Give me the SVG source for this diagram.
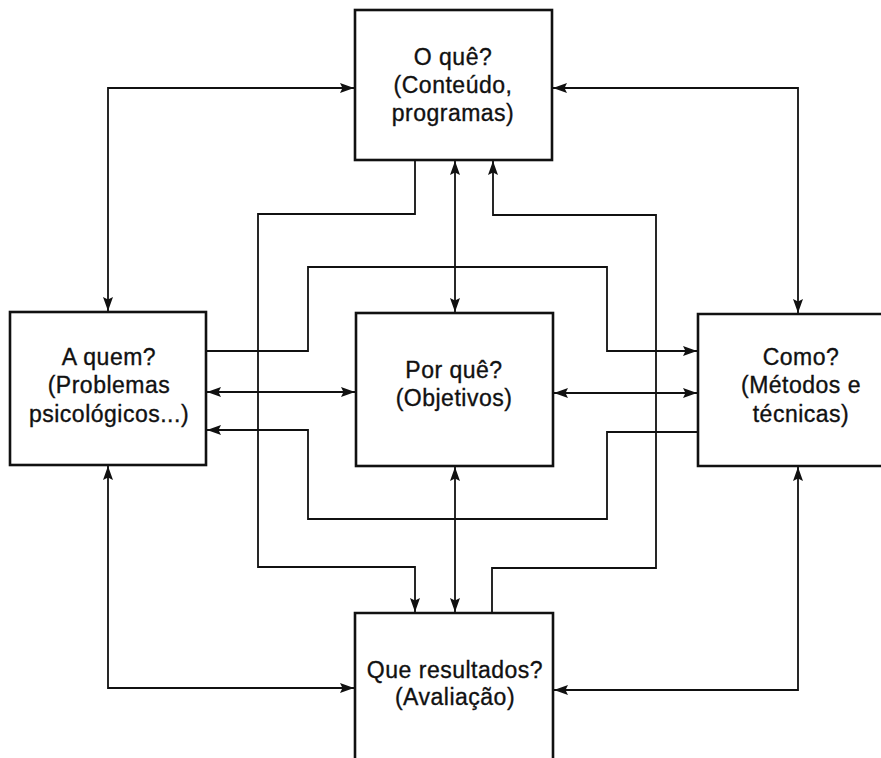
<svg xmlns="http://www.w3.org/2000/svg" width="881" height="758" viewBox="0 0 881 758">
<style>
.box{fill:#fff;stroke:#111;stroke-width:2.6}
.c{fill:none;stroke:#111;stroke-width:1.8}
.t{font-family:"Liberation Sans",Arial,sans-serif;font-size:23px;fill:#111;stroke:#111;stroke-width:0.35;letter-spacing:0.5px;text-anchor:middle}
</style>
<defs>
<marker id="a" markerUnits="userSpaceOnUse" markerWidth="15" markerHeight="11" refX="14" refY="5" orient="auto-start-reverse">
<path d="M0,0 L14,5 L0,10 L2.5,5 z" fill="#111"/>
</marker>
</defs>
<g id="connectors">
<path class="c" d="M108,311 V88 H354" marker-start="url(#a)" marker-end="url(#a)"/>
<path class="c" d="M553,88 H798 V313" marker-start="url(#a)" marker-end="url(#a)"/>
<path class="c" d="M108,466 V688 H354" marker-start="url(#a)" marker-end="url(#a)"/>
<path class="c" d="M798,467 V690 H554" marker-start="url(#a)" marker-end="url(#a)"/>
<path class="c" d="M455,161 V312" marker-start="url(#a)" marker-end="url(#a)"/>
<path class="c" d="M455,467 V612" marker-start="url(#a)" marker-end="url(#a)"/>
<path class="c" d="M207,392 H355" marker-start="url(#a)" marker-end="url(#a)"/>
<path class="c" d="M554,393 H697" marker-start="url(#a)" marker-end="url(#a)"/>
<path class="c" d="M415,160 V214 H258 V567 H415 V612" marker-end="url(#a)"/>
<path class="c" d="M492,613 V568 H656 V215 H493 V161" marker-end="url(#a)"/>
<path class="c" d="M206,351 H308 V267 H607 V351 H697" marker-end="url(#a)"/>
<path class="c" d="M698,432 H607 V519 H308 V430 H207" marker-end="url(#a)"/>
</g>
<g id="node-oque">
<rect class="box" x="355" y="10" width="197" height="150"/>
<text class="t" x="453" y="65">O quê?</text>
<text class="t" x="453" y="93">(Conteúdo,</text>
<text class="t" x="453" y="121">programas)</text>
</g>
<g id="node-aquem">
<rect class="box" x="10" y="312" width="196" height="153"/>
<text class="t" x="109" y="365">A quem?</text>
<text class="t" x="109" y="393">(Problemas</text>
<text class="t" x="109" y="422">psicológicos...)</text>
</g>
<g id="node-porque">
<rect class="box" x="356" y="313" width="197" height="153"/>
<text class="t" x="454" y="378">Por quê?</text>
<text class="t" x="454" y="406">(Objetivos)</text>
</g>
<g id="node-como">
<path class="box" d="M884,314 H698 V466 H884"/>
<text class="t" x="801" y="365">Como?</text>
<text class="t" x="801" y="393">(Métodos e</text>
<text class="t" x="801" y="422">técnicas)</text>
</g>
<g id="node-resultados">
<path class="box" d="M355,760 V613 H553 V760"/>
<text class="t" x="455" y="678">Que resultados?</text>
<text class="t" x="455" y="705">(Avaliação)</text>
</g>
</svg>
